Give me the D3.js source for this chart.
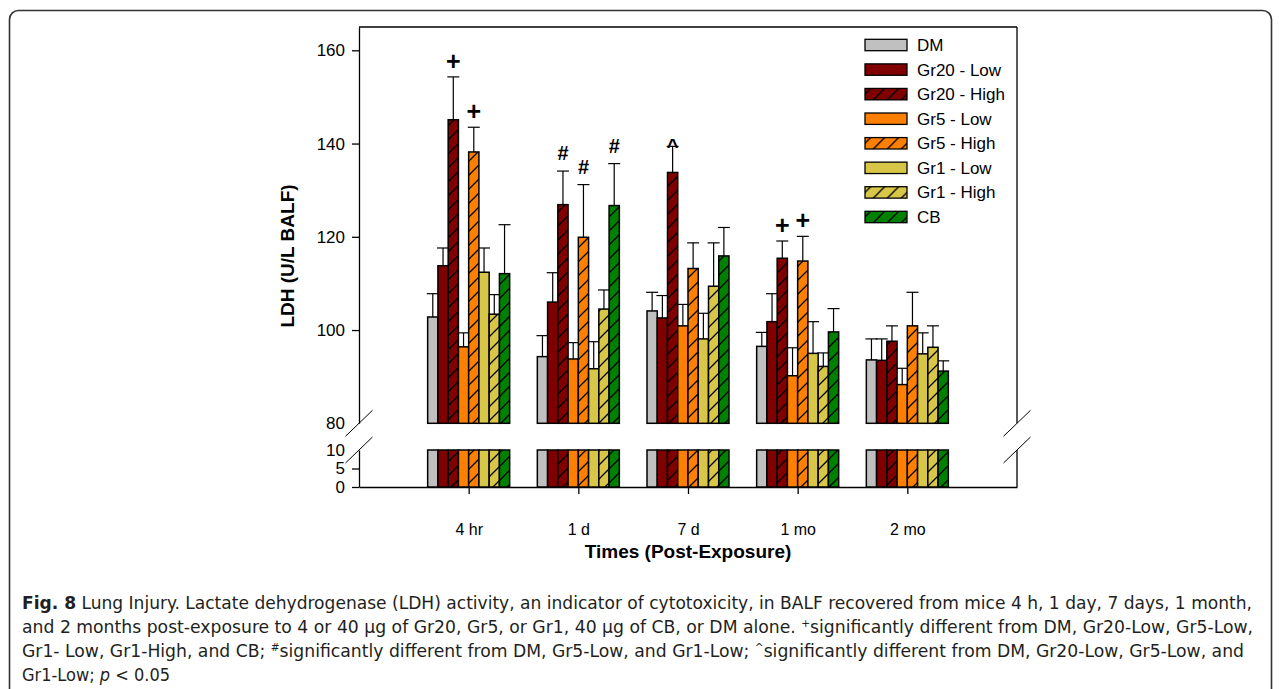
<!DOCTYPE html>
<html>
<head>
<meta charset="utf-8">
<script src="https://cdn.jsdelivr.net/npm/d3@7"></script>
<style>
  body { margin: 0; background: #fff; }
  svg { display: block; }
</style>
</head>
<body>
<script>
// chart data
var times = ['4 hr', '1 d', '7 d', '1 mo', '2 mo'];
var seriesNames = ['DM', 'Gr20 - Low', 'Gr20 - High', 'Gr5 - Low', 'Gr5 - High', 'Gr1 - Low', 'Gr1 - High', 'CB'];

var dmVals    = [102.8, 94.3, 104.1, 96.5, 93.6];
var gr20LVals = [113.8, 106.0, 102.6, 101.8, 93.5];
var gr20HVals = [145.1, 126.9, 133.8, 115.4, 97.6];
var gr5LVals  = [96.4, 93.8, 100.9, 90.2, 88.3];
var gr5HVals  = [138.2, 119.9, 113.2, 114.8, 100.9];
var gr1LVals  = [112.4, 91.7, 98.1, 95.0, 94.9];
var gr1HVals  = [103.4, 104.5, 109.4, 92.2, 96.3];
var cbVals    = [112.1, 126.7, 115.9, 99.6, 91.2];

var dmErr    = [5.0, 4.5, 4.0, 3.0, 4.5];
var gr20LErr = [3.8, 6.3, 4.8, 6.0, 4.6];
var gr20HErr = [9.2, 7.2, 5.6, 3.7, 3.3];
var gr5LErr  = [3.0, 3.5, 4.6, 6.0, 3.5];
var gr5HErr  = [5.3, 11.3, 5.5, 5.3, 7.2];
var gr1LErr  = [5.2, 5.8, 5.5, 6.8, 4.5];
var gr1HErr  = [4.2, 4.1, 9.3, 2.9, 4.6];
var cbErr    = [10.5, 9.0, 6.1, 5.0, 2.2];

var upperTicks = [80, 100, 120, 140, 160];
var lowerTicks = [0, 5, 10];

// significance marks: time index, series index, symbol
var marks = [
  {t: 0, s: 2, sym: '+'}, {t: 0, s: 4, sym: '+'},
  {t: 1, s: 2, sym: '#'}, {t: 1, s: 4, sym: '#'}, {t: 1, s: 7, sym: '#'},
  {t: 2, s: 2, sym: '^'},
  {t: 3, s: 2, sym: '+'}, {t: 3, s: 4, sym: '+'}
];

var allVals = [dmVals, gr20LVals, gr20HVals, gr5LVals, gr5HVals, gr1LVals, gr1HVals, cbVals];
var allErr = [dmErr, gr20LErr, gr20HErr, gr5LErr, gr5HErr, gr1LErr, gr1HErr, cbErr];
var fills = ['#c0c0c0', '#800000', '#800000', '#ff8000', '#ff8000', '#d8c648', '#d8c648', '#008000'];
var hatched = [false, false, true, false, true, false, true, true];

var width = 1281;
var height = 689;
var font = "'Liberation Sans', Arial, Helvetica, sans-serif";

var svg = d3.select('body')
  .append('svg')
  .attr('width', width)
  .attr('height', height);

// hatch pattern
var defs = svg.append('defs');
fills.forEach(function(c, i) {
  if (!hatched[i]) return;
  var p = defs.append('pattern')
    .attr('id', 'hatch' + i)
    .attr('patternUnits', 'userSpaceOnUse')
    .attr('width', 14)
    .attr('height', 14);
  p.append('rect').attr('width', 14).attr('height', 14).attr('fill', c);
  p.append('path')
    .attr('d', 'M-2,16 L16,-2 M-4,4 L4,-4 M10,18 L18,10')
    .attr('stroke', '#000')
    .attr('stroke-width', 1.3);
});
function fillOf(i) {
  return hatched[i] ? 'url(#hatch' + i + ')' : fills[i];
}

// outer frame
svg.append('rect')
  .attr('x', 9.5).attr('y', 10.5)
  .attr('width', 1262).attr('height', 700)
  .attr('rx', 9)
  .attr('fill', 'none')
  .attr('stroke', '#333')
  .attr('stroke-width', 1.6);

var left = 359, right = 1017;
var x = d3.scaleLinear().domain([0, 6]).range([left, right]);
var yUp = d3.scaleLinear().domain([80, 165]).range([423.3, 27]);
var yLo = d3.scaleLinear().domain([0, 10]).range([487, 450]);
var xb = d3.scaleBand().domain(d3.range(seriesNames.length)).range([-41, 41]);

// box lines (top and right)
svg.append('line')
  .attr('x1', left).attr('x2', right)
  .attr('y1', yUp.range()[1]).attr('y2', yUp.range()[1])
  .attr('stroke', '#000').attr('stroke-width', 1.3);
svg.append('line')
  .attr('x1', right).attr('x2', right)
  .attr('y1', yUp.range()[1]).attr('y2', yUp.range()[0])
  .attr('stroke', '#000').attr('stroke-width', 1.3);
svg.append('line')
  .attr('x1', right).attr('x2', right)
  .attr('y1', yLo.range()[1]).attr('y2', yLo.range()[0])
  .attr('stroke', '#000').attr('stroke-width', 1.3);

// y axes
var gUp = svg.append('g')
  .attr('transform', 'translate(' + left + ',0)')
  .call(d3.axisLeft(yUp).tickValues(upperTicks).tickSize(7).tickSizeOuter(0).tickPadding(7));
var gLo = svg.append('g')
  .attr('transform', 'translate(' + left + ',0)')
  .call(d3.axisLeft(yLo).tickValues(lowerTicks).tickSize(7).tickSizeOuter(0).tickPadding(7));
gUp.selectAll('.tick').filter(function(d) { return d === 80; }).select('line').remove();
gLo.selectAll('.tick').filter(function(d) { return d === 10; }).select('line').remove();

// x axis
var gX = svg.append('g')
  .attr('transform', 'translate(0,' + yLo(0) + ')')
  .call(d3.axisBottom(x)
    .tickValues(d3.range(1, times.length + 1))
    .tickFormat(function(d) { return times[d - 1]; })
    .tickSize(7).tickSizeOuter(0).tickPadding(30));

[gUp, gLo, gX].forEach(function(g) {
  g.attr('font-family', null).attr('font-size', null);
  g.selectAll('path, line').attr('stroke', '#000').attr('stroke-width', 1.3);
  g.selectAll('text').style('font-family', font).style('font-size', '17px').attr('fill', '#000');
});
gX.selectAll('text').style('font-size', '16px');

// axis break marks
[left, right].forEach(function(bx) {
  [yUp(80), yLo(10)].forEach(function(by) {
    svg.append('line')
      .attr('x1', bx - 13.5).attr('y1', by + 13)
      .attr('x2', bx + 13.5).attr('y2', by - 13)
      .attr('stroke', '#000').attr('stroke-width', 1);
  });
});

// flatten data
var bars = [];
times.forEach(function(t, ti) {
  seriesNames.forEach(function(s, si) {
    bars.push({t: ti, s: si, v: allVals[si][ti], e: allErr[si][ti]});
  });
});
function bx(d) { return x(d.t + 1) + xb(d.s); }

// error bars (drawn under bars)
var eb = svg.append('g').selectAll('g.err')
  .data(bars).enter().append('g');
eb.append('line')
  .attr('x1', function(d) { return bx(d) + xb.bandwidth() / 2; })
  .attr('x2', function(d) { return bx(d) + xb.bandwidth() / 2; })
  .attr('y1', function(d) { return yUp(d.v); })
  .attr('y2', function(d) { return yUp(d.v + d.e); })
  .attr('stroke', '#000').attr('stroke-width', 1.2);
eb.append('line')
  .attr('x1', function(d) { return bx(d) + xb.bandwidth() / 2 - 6; })
  .attr('x2', function(d) { return bx(d) + xb.bandwidth() / 2 + 6; })
  .attr('y1', function(d) { return yUp(d.v + d.e); })
  .attr('y2', function(d) { return yUp(d.v + d.e); })
  .attr('stroke', '#000').attr('stroke-width', 1.2);

// upper bars
svg.append('g').selectAll('rect')
  .data(bars).enter().append('rect')
  .attr('x', bx)
  .attr('y', function(d) { return yUp(d.v); })
  .attr('width', xb.bandwidth())
  .attr('height', function(d) { return yUp(80) - yUp(d.v); })
  .attr('fill', function(d) { return fillOf(d.s); })
  .attr('stroke', '#000')
  .attr('stroke-width', 1.5);

// lower bars (0 to 10 stub)
svg.append('g').selectAll('rect')
  .data(bars).enter().append('rect')
  .attr('x', bx)
  .attr('y', yLo(10))
  .attr('width', xb.bandwidth())
  .attr('height', yLo(0) - yLo(10))
  .attr('fill', function(d) { return fillOf(d.s); })
  .attr('stroke', '#000')
  .attr('stroke-width', 1.5);

// significance symbols
var symOffset = {'+': -7, '#': -11, '^': 6.6};
var symSize = {'+': '25px', '#': '20px', '^': '20px'};
svg.append('g').selectAll('text')
  .data(marks).enter().append('text')
  .attr('x', function(d) { return x(d.t + 1) + xb(d.s) + xb.bandwidth() / 2; })
  .attr('y', function(d) {
    return yUp(allVals[d.s][d.t] + allErr[d.s][d.t]) + symOffset[d.sym];
  })
  .attr('text-anchor', 'middle')
  .style('font-family', font)
  .style('font-weight', 'bold')
  .style('font-size', function(d) { return symSize[d.sym]; })
  .text(function(d) { return d.sym; });

// legend
var legend = svg.append('g').selectAll('g')
  .data(seriesNames).enter().append('g')
  .attr('transform', function(d, i) { return 'translate(865,' + (45 + i * 24.57) + ')'; });
legend.append('rect')
  .attr('x', 0).attr('y', -5.7)
  .attr('width', 42).attr('height', 11.4)
  .attr('fill', function(d, i) { return fillOf(i); })
  .attr('stroke', '#000').attr('stroke-width', 1.3);
legend.append('text')
  .attr('x', 52).attr('y', 6)
  .style('font-family', font).style('font-size', '17px')
  .text(function(d) { return d; });

// axis titles
svg.append('text')
  .attr('transform', 'translate(294,256) rotate(-90)')
  .attr('text-anchor', 'middle')
  .style('font-family', font).style('font-weight', 'bold').style('font-size', '19px')
  .text('LDH (U/L BALF)');
svg.append('text')
  .attr('x', 688).attr('y', 558)
  .attr('text-anchor', 'middle')
  .style('font-family', font).style('font-weight', 'bold').style('font-size', '19px')
  .text('Times (Post-Exposure)');

// caption
var capFont = "'Liberation Sans Narrow', 'DejaVu Sans Condensed', 'Liberation Sans', sans-serif";
var capLines = [
  {y: 609, len: 1230, parts: [
    {t: 'Fig. 8', b: true}, {t: ' Lung Injury. Lactate dehydrogenase (LDH) activity, an indicator of cytotoxicity, in BALF recovered from mice 4 h, 1 day, 7 days, 1 month,'}]},
  {y: 633, len: 1231, parts: [
    {t: 'and 2 months post-exposure to 4 or 40 μg of Gr20, Gr5, or Gr1, 40 μg of CB, or DM alone. '}, {t: '+', sup: true},
    {t: 'significantly different from DM, Gr20-Low, Gr5-Low,'}]},
  {y: 657, len: 1222, parts: [
    {t: 'Gr1- Low, Gr1-High, and CB; '}, {t: '#', sup: true},
    {t: 'significantly different from DM, Gr5-Low, and Gr1-Low; '}, {t: '^', sup: true},
    {t: 'significantly different from DM, Gr20-Low, Gr5-Low, and'}]},
  {y: 681, len: null, parts: [{t: 'Gr1-Low; '}, {t: 'p', i: true}, {t: ' < 0.05'}]}
];
capLines.forEach(function(line) {
  var txt = svg.append('text')
    .attr('x', 22).attr('y', line.y)
    .style('font-family', capFont).style('font-size', '18px')
    .attr('fill', '#231f20');
  if (line.len) txt.attr('textLength', line.len).attr('lengthAdjust', 'spacingAndGlyphs');
  line.parts.forEach(function(p) {
    var ts = txt.append('tspan').text(p.t);
    if (p.b) ts.style('font-weight', 'bold');
    if (p.i) ts.style('font-style', 'italic');
    if (p.sup) ts.style('font-size', '11px').attr('baseline-shift', 'super');
  });
});
</script>
</body>
</html>
